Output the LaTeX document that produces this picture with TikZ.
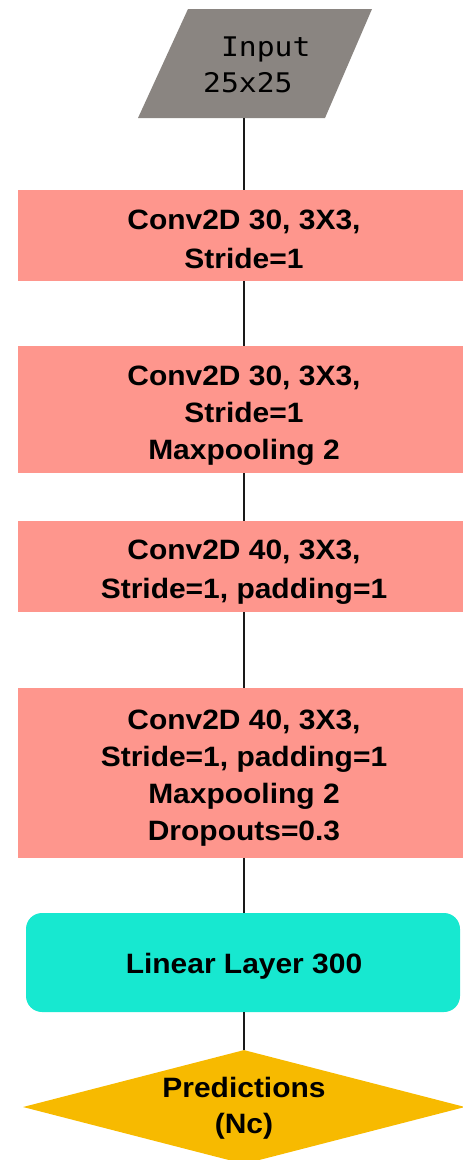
\documentclass[tikz,border=0pt]{standalone}
\usepackage{fontspec}
\setmainfont{Liberation Sans}
\newfontfamily\monofont{DejaVu Sans Mono}
\usetikzlibrary{shapes.geometric}
\definecolor{ingray}{HTML}{8A8581}
\definecolor{salmon}{HTML}{FE968D}
\definecolor{tealc}{HTML}{17E8D0}
\definecolor{gold}{HTML}{F7BA00}
\begin{document}
\begin{tikzpicture}[x=1pt,y=-1pt,
  layer/.style={rectangle, fill=salmon, draw=none, inner sep=0pt, minimum width=452pt},
  lbl/.style={font=\fontsize{28}{39}\selectfont\bfseries, align=center, inner sep=0pt, xscale=1.07, transform shape},
  lbltight/.style={lbl, font=\fontsize{28}{37}\selectfont\bfseries},
  conn/.style={draw=black!90, line width=2pt}]
\useasboundingbox (0,0) rectangle (463,1160);
\clip (0,0) rectangle (463,1160);
% input parallelogram
\fill[ingray] (188,9) -- (372,9) -- (325,118) -- (138,118) -- cycle;
\coordinate (inbot) at (244,118);
\node[font=\monofont\fontsize{27}{36}\selectfont, align=left, inner sep=0pt, anchor=west, xscale=1.1, transform shape] (intext) at (203,65) {\phantom{2}Input\\25x25};
% boxes
\node[layer, minimum height=91pt] (b1) at (244,235.5) {};
\node[layer, minimum height=127pt] (b2) at (244,409.5) {};
\node[layer, minimum height=91pt] (b3) at (244,566.5) {};
\node[layer, minimum height=170pt] (b4) at (244,773) {};
\node[rectangle, rounded corners=16pt, fill=tealc, inner sep=0pt, minimum width=434pt, minimum height=99pt] (lin) at (243,962.5) {};
\node[diamond, fill=gold, inner sep=0pt, minimum width=442pt, minimum height=114pt] (pred) at (244,1107) {};
% connectors
\draw[conn] (inbot) -- (b1.north);
\draw[conn] (b1.south) -- (b2.north);
\draw[conn] (b2.south) -- (b3.north);
\draw[conn] (b3.south) -- (b4.north);
\draw[conn] (b4.south) -- (b4.south |- lin.north);
\draw[conn] (b4.south |- lin.south) -- (pred.north);
% labels
\node[lbl] (t1) at (244,239) {Conv2D 30, 3X3,\\Stride=1};
\begin{scope}
\clip (0,0) rectangle (463,465);
\node[lbltight] (t2) at (244,415.5) {Conv2D 30, 3X3,\\Stride=1\\Maxpooling 2};
\end{scope}
\node[lbl] (t3) at (244,572) {Conv2D 40, 3X3,\\Stride=1, padding=1};
\node[lbltight] (t4) at (244,778) {Conv2D 40, 3X3,\\Stride=1, padding=1\\Maxpooling 2\\Dropouts=0.3};
\node[lbl] (tl) at (244,966.5) {Linear Layer 300};
\node[lbl, font=\fontsize{28}{36}\selectfont\bfseries] (tp) at (244,1108.5) {Predictions\\(Nc)};
\end{tikzpicture}
\end{document}
